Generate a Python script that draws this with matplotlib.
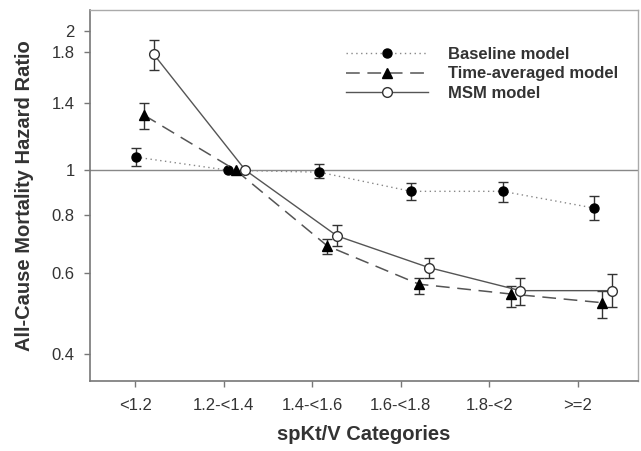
import numpy as np
import matplotlib
matplotlib.use("Agg")
import matplotlib.pyplot as plt
from matplotlib.ticker import FixedLocator, NullLocator, FixedFormatter

plt.rcParams['font.family'] = ['Liberation Sans', 'DejaVu Sans']

categories = ["<1.2", "1.2-<1.4", "1.4-<1.6", "1.6-<1.8", "1.8-<2", ">=2"]

baseline = [1.067, 1.0, 0.99, 0.90, 0.90, 0.828]
baseline_lo = [1.02, np.nan, 0.96, 0.863, 0.854, 0.78]
baseline_hi = [1.116, np.nan, 1.03, 0.937, 0.945, 0.88]

timeavg = [1.315, 1.0, 0.686, 0.567, 0.54, 0.517]
timeavg_lo = [1.23, np.nan, 0.66, 0.541, 0.506, 0.48]
timeavg_hi = [1.395, np.nan, 0.71, 0.586, 0.562, 0.548]

msm = [1.78, 1.0, 0.721, 0.616, 0.549, 0.549]
msm_lo = [1.645, np.nan, 0.684, 0.586, 0.512, 0.506]
msm_hi = [1.915, np.nan, 0.76, 0.647, 0.586, 0.595]

yticks = [0.4, 0.6, 0.8, 1, 1.4, 1.8, 2]
ytick_labels = ["0.4", "0.6", "0.8", "1", "1.4", "1.8", "2"]

fig = plt.figure(figsize=(6.41, 4.51), dpi=100)
ax = fig.add_axes([0.1404, 0.155, 0.855, 0.823])

idx = np.arange(len(categories))
spread = 1.035

series = [
    ("Baseline model", baseline, baseline_lo, baseline_hi, 0.01, dict(linestyle=(0, (1, 2.5)), color="#888888", lw=1.0), dict(marker="o", mfc="black", mec="black", ms=6.5)),
    ("Time-averaged model", timeavg, timeavg_lo, timeavg_hi, 0.10, dict(linestyle=(0, (9, 5)), color="#555555", lw=1.1), dict(marker="^", mfc="black", mec="black", ms=6.5)),
    ("MSM model", msm, msm_lo, msm_hi, 0.21, dict(linestyle="-", color="#555555", lw=1.0), dict(marker="o", mfc="white", mec="#333333", ms=7, mew=1.0)),
]

ax.axhline(1.0, color="#888888", lw=1.0, zorder=1)

handles = []
for name, vals, lo, hi, off, lstyle, mstyle in series:
    x = idx * spread + off
    vals = np.array(vals)
    lo = np.array(lo)
    hi = np.array(hi)
    mask = ~np.isnan(lo)
    ax.errorbar(x[mask], vals[mask], yerr=[vals[mask] - lo[mask], hi[mask] - vals[mask]],
                fmt="none", ecolor="#333333", elinewidth=1.0, capsize=3.6, capthick=1.0, zorder=2)
    h, = ax.plot(x, vals, label=name, zorder=3, **lstyle, **mstyle)
    handles.append(h)

ax.set_yscale("log")
ax.set_ylim(0.35, 2.22)
ax.set_xlim(-0.51, 5.68)
ax.yaxis.set_major_locator(FixedLocator(yticks))
ax.yaxis.set_major_formatter(FixedFormatter(ytick_labels))
ax.yaxis.set_minor_locator(NullLocator())
ax.set_xticks(idx)
ax.set_xticklabels(categories)

for s in ["top", "right"]:
    ax.spines[s].set_color("#aaaaaa")
    ax.spines[s].set_linewidth(1.0)
for s in ["left", "bottom"]:
    ax.spines[s].set_color("#777777")
    ax.spines[s].set_linewidth(1.2)

ax.tick_params(axis="both", direction="out", length=4, width=1.0, color="#777777",
               labelsize=12, labelcolor="#333333")
ax.tick_params(axis="x", pad=8)
ax.tick_params(axis="y", pad=7)

ax.set_xlabel("spKt/V Categories", fontsize=14.5, fontweight="bold", color="#333333", labelpad=9)
ax.set_ylabel("All-Cause Mortality Hazard Ratio", fontsize=14.5, fontweight="bold", color="#333333", labelpad=13)

leg = ax.legend(handles=handles, loc="upper left", bbox_to_anchor=(0.44, 0.94), frameon=False,
                handlelength=4.9, fontsize=12, labelspacing=0.25, handletextpad=1.2)
for t in leg.get_texts():
    t.set_fontweight("bold")
    t.set_color("#333333")

fig.savefig("out.png", dpi=100)
